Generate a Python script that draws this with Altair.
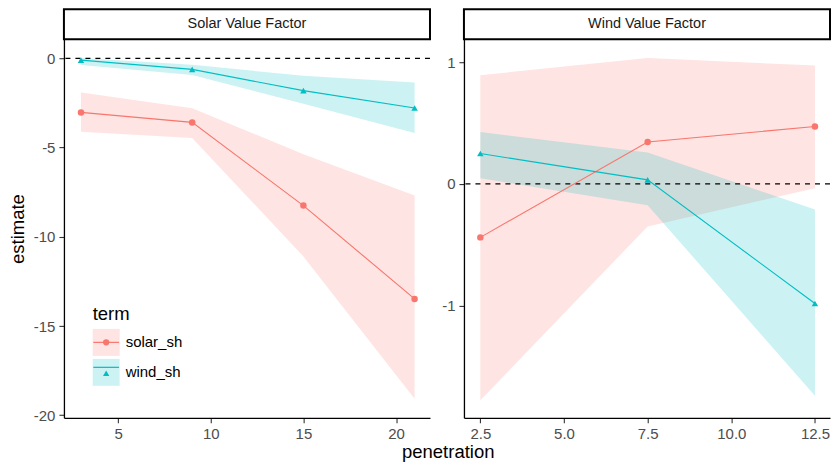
import altair as alt
import pandas as pd

FONT = "Liberation Sans"
terms = ["solar_sh", "wind_sh"]
colors = ["#F8766D", "#00BFC4"]
shapes = ["circle", "triangle-up"]

# ---- Solar Value Factor panel ----
solar_title = "Solar Value Factor"
solar_x = [3, 9, 15, 21]
solar_solar_est = [-3.03, -3.59, -8.25, -13.48]
solar_solar_low = [-4.11, -4.46, -11.1, -19.07]
solar_solar_high = [-1.92, -2.79, -5.38, -7.68]
solar_wind_est = [-0.1, -0.62, -1.81, -2.78]
solar_wind_low = [-0.37, -0.93, -2.55, -4.18]
solar_wind_high = [0.02, -0.36, -0.98, -1.36]
solar_xticks = [5, 10, 15, 20]
solar_yticks = [0, -5, -10, -15, -20]

# ---- Wind Value Factor panel ----
wind_title = "Wind Value Factor"
wind_x = [2.5, 7.5, 12.5]
wind_solar_est = [-0.44, 0.345, 0.472]
wind_solar_low = [-1.78, -0.35, -0.035]
wind_solar_high = [0.894, 1.036, 0.973]
wind_wind_est = [0.25, 0.033, -0.984]
wind_wind_low = [0.046, -0.176, -1.742]
wind_wind_high = [0.426, 0.258, -0.211]
wind_xticks = [2.5, 5.0, 7.5, 10.0, 12.5]
wind_yticks = [-1, 0, 1]


def make_df(x, s_est, s_low, s_high, w_est, w_low, w_high):
    rows = []
    for term, est, low, high in [(terms[0], s_est, s_low, s_high),
                                 (terms[1], w_est, w_low, w_high)]:
        for xi, e, lo, hi in zip(x, est, low, high):
            rows.append(dict(penetration=xi, estimate=e, low=lo, high=hi,
                             term=term, term_l=term, term_p=term))
    return pd.DataFrame(rows)


solar_df = make_df(solar_x, solar_solar_est, solar_solar_low, solar_solar_high,
                   solar_wind_est, solar_wind_low, solar_wind_high)
wind_df = make_df(wind_x, wind_solar_est, wind_solar_low, wind_solar_high,
                  wind_wind_est, wind_wind_low, wind_wind_high)

PH = 379
PW = 366.5
GAP = 33.5
LEG_X = 28.8
LEG_Y = 290
fill_legend = alt.Legend(title="term", orient="none", legendX=LEG_X, legendY=LEG_Y - 23.5,
                         symbolType="square", symbolSize=729, symbolOpacity=0.2,
                         symbolStrokeWidth=0, labelFontSize=15, labelFont=FONT,
                         labelColor="#000000", titleFontSize=18.5, titleFont=FONT,
                         titleFontWeight="normal", titleColor="#000000", titlePadding=5,
                         rowPadding=3, labelOffset=6, padding=0)
stroke_legend = alt.Legend(title=None, orient="none", legendX=LEG_X, legendY=LEG_Y,
                           symbolType="stroke", symbolSize=665, symbolStrokeWidth=1.2,
                           labelExpr="''", labelFontSize=15, rowPadding=3, padding=0)
point_legend = alt.Legend(title=None, orient="none", legendX=LEG_X, legendY=LEG_Y,
                          symbolSize=40, symbolStrokeWidth=0, labelExpr="''",
                          labelFontSize=27, rowPadding=3, padding=0)


def panel(df, title, width, xdom, ydom, xticks, yticks, xaxis_extra, yaxis_extra):
    xs = alt.Scale(domain=xdom, nice=False, zero=False)
    ys = alt.Scale(domain=ydom, nice=False, zero=False)
    xax = alt.Axis(values=xticks, **xaxis_extra)
    yax = alt.Axis(values=yticks, **yaxis_extra)
    X = alt.X("penetration:Q", scale=xs, axis=xax)
    base = alt.Chart(df)
    area = base.mark_area(fillOpacity=0.2).encode(
        x=X,
        y=alt.Y("low:Q", scale=ys, axis=yax),
        y2="high:Q",
        fill=alt.Fill("term:N", scale=alt.Scale(range=colors), legend=fill_legend),
    )
    zero = alt.Chart(pd.DataFrame({"z": [0]})).mark_rule(
        color="#000000", strokeWidth=1.1, strokeDash=[5, 5]
    ).encode(y=alt.Y("z:Q", scale=ys, axis=yax))
    line = base.mark_line(strokeWidth=1.1).encode(
        x=X,
        y=alt.Y("estimate:Q", scale=ys, axis=yax),
        stroke=alt.Stroke("term_l:N", scale=alt.Scale(range=colors), legend=stroke_legend),
    )
    pts = base.mark_point(filled=True, size=42, opacity=1).encode(
        x=X,
        y=alt.Y("estimate:Q", scale=ys, axis=yax),
        color=alt.Color("term_p:N", scale=alt.Scale(range=colors), legend=point_legend),
        shape=alt.Shape("term_p:N", scale=alt.Scale(range=shapes), legend=point_legend),
    )
    sdf = pd.DataFrame({"label": [title]})
    strip = alt.Chart(sdf).mark_rect(fill="white", stroke="#000000", strokeWidth=2).encode(
        x=alt.value(0), x2=alt.value(width), y=alt.value(-30), y2=alt.value(0)
    )
    stext = alt.Chart(sdf).mark_text(font=FONT, fontSize=14.5, color="#1A1A1A",
                                     baseline="middle", align="center").encode(
        x=alt.value(width / 2), y=alt.value(-15), text="label:N"
    )
    return alt.layer(area, zero, line, pts, strip, stext).properties(width=width, height=PH)


left = panel(
    solar_df, solar_title, PW, [2.08, 21.83], [-20.14, 1.07], solar_xticks, solar_yticks,
    dict(title=None, labelExpr="toString(datum.value)"),
    dict(title="estimate", labelExpr="toString(datum.value)", titleX=-40.2, titleY=PH / 2,
         titleAngle=270, titleBaseline="alphabetic", titleAlign="center"),
)
right = panel(
    wind_df, wind_title, PW, [2.01, 12.95], [-1.924, 1.19], wind_xticks, wind_yticks,
    dict(title="penetration", format=".1f", titleX=-(GAP / 2) + 0.5,
         titleY=40, titleBaseline="alphabetic", titleAlign="center", titleAngle=0),
    dict(title=None, labelExpr="toString(datum.value)"),
)

chart = alt.hconcat(left, right, spacing=GAP, bounds="flush").resolve_scale(
    x="independent", y="independent"
).properties(
    padding={"left": 0, "top": 0, "right": 0, "bottom": 0}
).configure_view(stroke=None).configure_axis(
    grid=False, domainColor="#000000", domainWidth=1.3, tickColor="#333333",
    tickWidth=1.1, tickSize=5, labelColor="#4D4D4D", labelFontSize=15, labelFont=FONT,
    labelPadding=4, titleFont=FONT, titleFontSize=18.5, titleFontWeight="normal",
    titleColor="#000000"
)

chart.save("out.html", embed_options={"renderer": "svg", "actions": False})
